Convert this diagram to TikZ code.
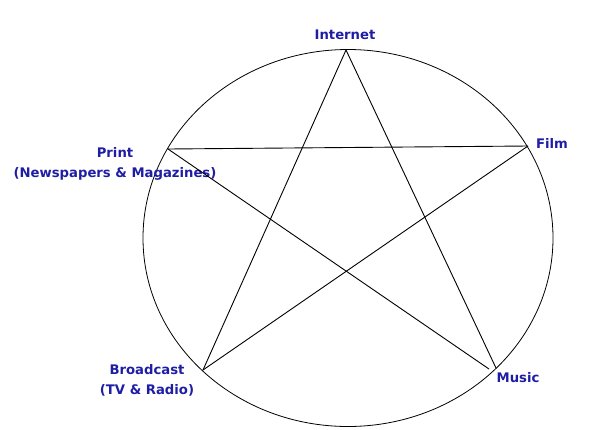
\documentclass[tikz,border=0pt]{standalone}
\usepackage{fontspec}
\setsansfont{DejaVu Sans}
\usetikzlibrary{positioning}

\definecolor{labelblue}{RGB}{30,30,165}

\begin{document}
\begin{tikzpicture}[
  x=1pt, y=-1pt,
  every node/.style={font=\sffamily\bfseries\fontsize{13.2}{20}\selectfont},
  medium/.style={text=labelblue, inner sep=0pt, align=center},
  edge/.style={draw, line width=0.9pt},
  rim/.style={draw, line width=0.8pt}
]
\useasboundingbox (0,0) rectangle (600,429);
% outer ring
\draw[rim] (348,238) ellipse [x radius=205, y radius=188.5];
% star points
\coordinate (internet) at (346,50);
\coordinate (film) at (528,146);
\coordinate (music) at (496,368);
\coordinate (music2) at (489,369);
\coordinate (broadcast) at (203,370);
\coordinate (print) at (168,149);
% labels
\node[medium] (linternet) at (345,35) {Internet};
\node[medium] (lfilm) at (552,143) {Film};
\node[medium] (lmusic) at (518,378) {Music};
\node[medium] (lbroadcast) at (147,380) {Broadcast\\(TV \& Radio)};
\node[medium] (lprint) at (115,164) {Print\\(Newspapers \& Magazines)};
% star edges
\foreach \a/\b in {internet/broadcast, internet/music, print/film, print/music2, film/broadcast}
  \draw[edge] (\a) -- (\b);
\end{tikzpicture}
\end{document}
